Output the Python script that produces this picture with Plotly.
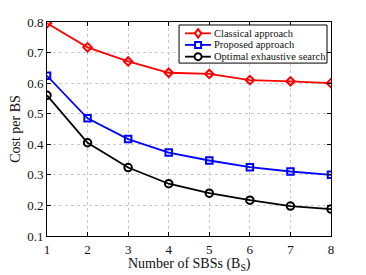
import plotly.graph_objects as go

x = [1, 2, 3, 4, 5, 6, 7, 8]
classical = [0.796, 0.717, 0.671, 0.634, 0.630, 0.610, 0.606, 0.600]
proposed = [0.624, 0.485, 0.417, 0.373, 0.347, 0.325, 0.311, 0.300]
optimal = [0.560, 0.405, 0.324, 0.271, 0.240, 0.217, 0.198, 0.188]

names = ["Classical approach", "Proposed approach", "Optimal exhaustive search"]
colors = ["#ff0000", "#0000ff", "#000000"]
symbols = ["diamond-open", "square-open", "circle-open"]
sizes = [6.5, 6.5, 7.5]

x_title = "Number of SBSs (B<sub>S</sub>)"
y_title = "Cost per BS"

FONT = "Liberation Serif"
TXT = "#111111"

fig = go.Figure()
for ys, n, c, s, sz in zip([classical, proposed, optimal], names, colors, symbols, sizes):
    fig.add_trace(go.Scatter(x=x, y=ys, name=n, mode="lines+markers", showlegend=False,
                             line=dict(color=c, width=1.8),
                             marker=dict(symbol=s, size=sz, color=c, line=dict(width=2, color=c))))

axis_common = dict(showline=True, linecolor="black", linewidth=1, mirror="ticks",
                   ticks="inside", ticklen=4, tickcolor="black",
                   showgrid=True, gridcolor="#c8c8c8", griddash="dot", gridwidth=1,
                   zeroline=False, tickfont=dict(family=FONT, size=13, color=TXT))

fig.update_xaxes(range=[1, 8], dtick=1, ticklabelstandoff=1, **axis_common)
fig.update_yaxes(range=[0.1, 0.8], dtick=0.1, tickformat=".1f", title=dict(text=y_title, standoff=3,
                 font=dict(family=FONT, size=14, color=TXT)), **axis_common)

# hand-drawn legend (layout decoration in paper coordinates)
box = dict(x0=0.465, x1=0.986, y0=0.808, y1=0.986)
rows_y = [0.947, 0.893, 0.838]
line_x0, line_x1, mark_x, text_x = 0.486, 0.577, 0.532, 0.581
shapes = [dict(type="rect", xref="paper", yref="paper", line=dict(color="black", width=1),
               fillcolor="white", layer="above", **box)]
annotations = [dict(text=x_title, xref="paper", yref="paper", x=0.5, y=0, xanchor="center",
                    yanchor="middle", yshift=-28, showarrow=False,
                    font=dict(family=FONT, size=14, color=TXT))]
for ry, n, c, s in zip(rows_y, names, colors, symbols):
    shapes.append(dict(type="line", xref="paper", yref="paper", x0=line_x0, x1=line_x1, y0=ry, y1=ry,
                       line=dict(color=c, width=1.8), layer="above"))
    common = dict(xref="paper", yref="paper", xsizemode="pixel", ysizemode="pixel",
                  xanchor=mark_x, yanchor=ry, line=dict(color=c, width=2), fillcolor="white", layer="above")
    if s.startswith("circle"):
        shapes.append(dict(type="circle", x0=-3.5, x1=3.5, y0=-3.5, y1=3.5, **common))
    elif s.startswith("square"):
        shapes.append(dict(type="rect", x0=-3, x1=3, y0=-3, y1=3, **common))
    else:
        shapes.append(dict(type="path", path="M 0 -4.2 L 3.2 0 L 0 4.2 L -3.2 0 Z", **common))
    annotations.append(dict(text=n, xref="paper", yref="paper", x=text_x, y=ry, xanchor="left",
                            yanchor="middle", showarrow=False,
                            font=dict(family=FONT, size=10.5, color=TXT)))

fig.update_layout(width=366, height=275, margin=dict(l=47, r=35, t=22, b=39),
                  plot_bgcolor="white", paper_bgcolor="white",
                  font=dict(family=FONT, color=TXT),
                  showlegend=False, shapes=shapes, annotations=annotations)
fig.write_html("out.html", config={"displayModeBar": False},
               post_script="document.body.style.margin='0';")
